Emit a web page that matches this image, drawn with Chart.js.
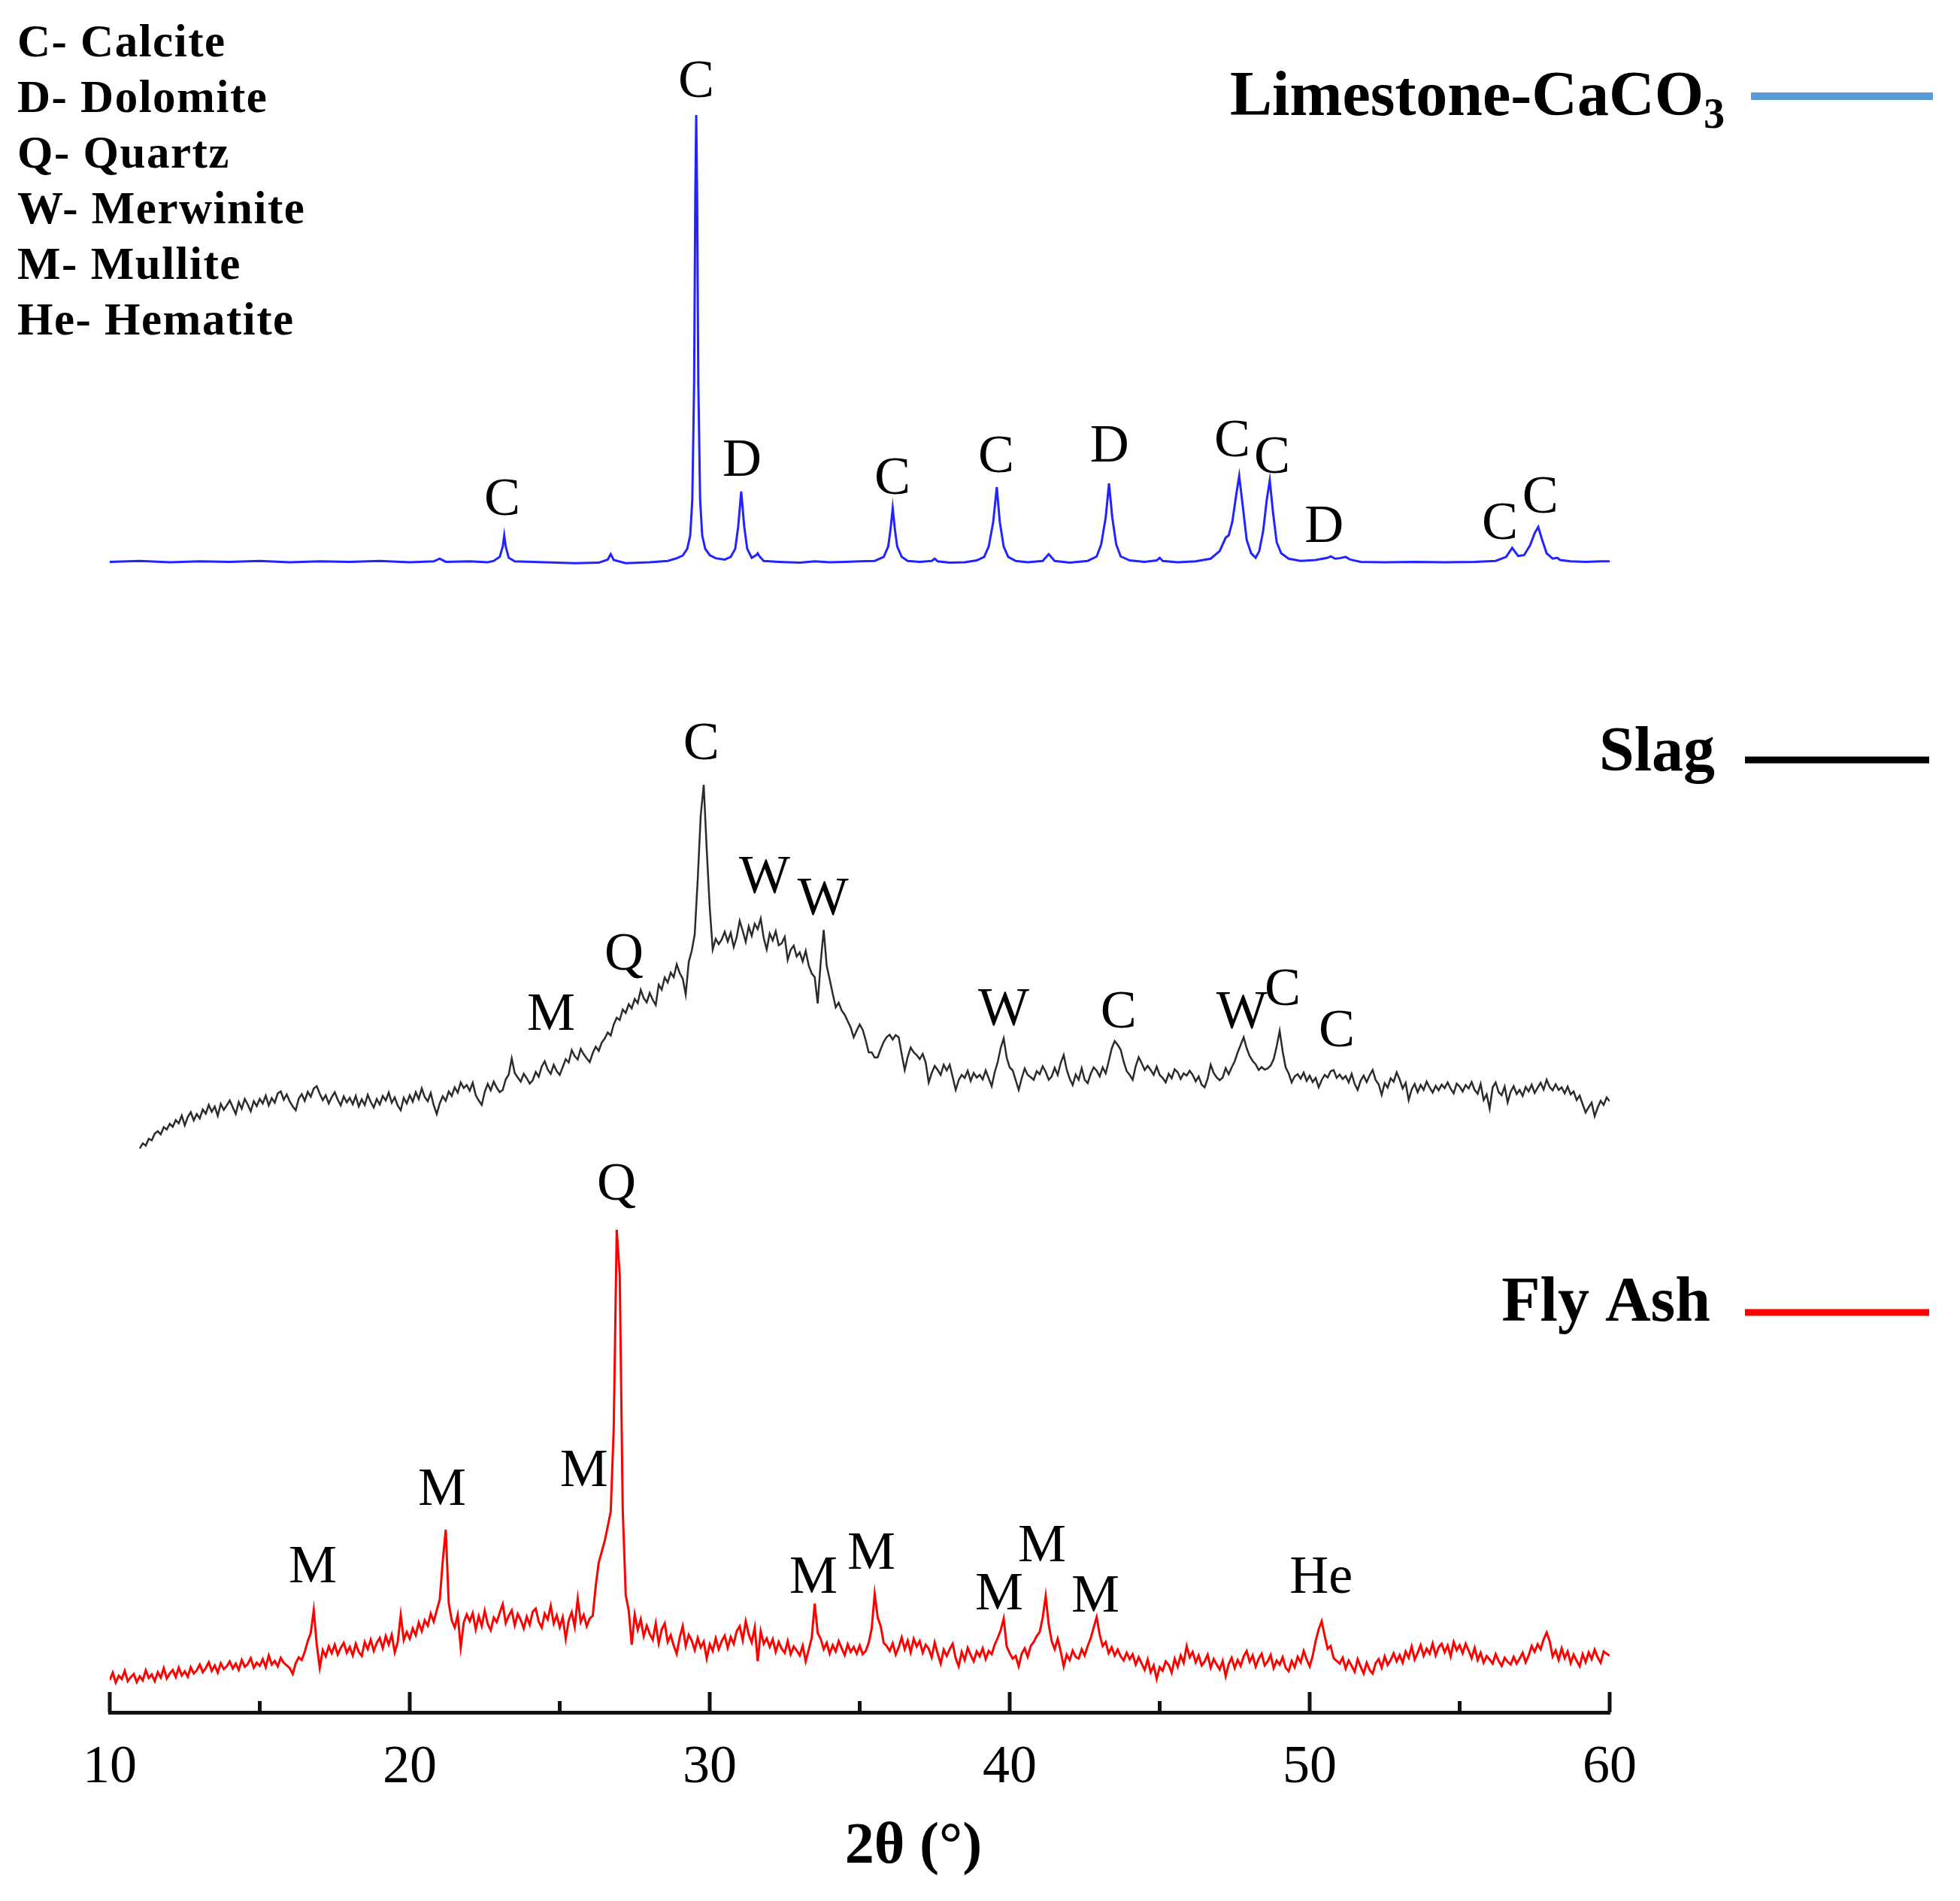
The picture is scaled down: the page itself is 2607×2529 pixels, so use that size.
<!DOCTYPE html>
<html>
<head>
<meta charset="utf-8">
<script src="https://cdn.jsdelivr.net/npm/chart.js@4.4.1/dist/chart.umd.min.js"></script>
<style>
  html, body { margin: 0; padding: 0; background: #fff; }
  #wrap { width: 2607px; height: 2529px; }
</style>
</head>
<body>
<div id="wrap"><canvas id="xrd" width="2607" height="2529"></canvas></div>
<script>
// 2-theta axis
var thetaTicks = [10, 20, 30, 40, 50, 60];

// Limestone-CaCO3 pattern (2theta, relative intensity)
var limestoneTheta = [10.0, 11.0, 12.0, 13.0, 14.0, 15.0, 16.0, 17.0, 18.0, 19.0, 20.0, 20.8, 21.0, 21.2, 22.0, 22.6, 22.8, 23.0, 23.1, 23.15, 23.2, 23.3, 23.5, 24.5, 25.5, 26.3, 26.6, 26.7, 26.8, 27.2, 28.0, 28.6, 28.9, 29.1, 29.25, 29.35, 29.42, 29.48, 29.52, 29.55, 29.58, 29.62, 29.68, 29.75, 29.85, 30.0, 30.2, 30.5, 30.7, 30.85, 30.95, 31.05, 31.15, 31.25, 31.4, 31.55, 31.6, 31.65, 31.8, 32.3, 33.0, 33.5, 34.0, 34.5, 35.0, 35.5, 35.8, 35.95, 36.03, 36.1, 36.17, 36.25, 36.4, 36.6, 37.0, 37.4, 37.5, 37.6, 38.0, 38.5, 38.9, 39.15, 39.3, 39.45, 39.57, 39.67, 39.8, 39.95, 40.2, 40.6, 41.1, 41.3, 41.5, 42.0, 42.6, 42.9, 43.05, 43.2, 43.31, 43.42, 43.55, 43.7, 44.0, 44.5, 44.9, 45.0, 45.1, 45.6, 46.2, 46.7, 47.0, 47.2, 47.3, 47.42, 47.55, 47.65, 47.78, 47.9, 48.05, 48.2, 48.32, 48.45, 48.57, 48.67, 48.78, 48.9, 49.05, 49.3, 49.7, 50.2, 50.6, 50.7, 50.85, 51.0, 51.2, 51.35, 51.7, 52.5, 53.5, 54.5, 55.5, 56.2, 56.55, 56.75, 56.95, 57.15, 57.35, 57.5, 57.62, 57.75, 57.9, 58.1, 58.25, 58.35, 58.7, 59.2, 59.7, 60.0];
var limestoneCounts = [0.1, 0.3, 0.0, 0.2, 0.1, 0.3, 0.0, 0.2, 0.1, 0.3, 0.0, 0.2, 0.8, 0.1, 0.2, 0.0, 0.3, 1.2, 3.5, 6.0, 3.5, 1.0, 0.2, 0.0, -0.2, -0.1, 0.6, 1.8, 0.5, -0.2, 0.0, 0.3, 0.9, 1.5, 3.0, 6.0, 14, 40, 82, 100, 82, 40, 14, 6.0, 3.0, 1.6, 0.9, 0.6, 1.2, 3.0, 8.0, 15.8, 8.0, 3.0, 1.0, 1.6, 2.0, 1.4, 0.3, 0.1, -0.1, 0.2, 0.0, 0.1, 0.2, 0.3, 1.2, 3.5, 7.5, 12.1, 7.5, 3.5, 1.2, 0.3, 0.1, 0.3, 0.8, 0.2, -0.1, 0.0, 0.4, 1.2, 3.5, 9.0, 16.8, 9.0, 3.5, 1.2, 0.3, 0.0, 0.3, 1.8, 0.3, -0.1, 0.3, 1.3, 4.0, 10.0, 17.6, 10.0, 4.0, 1.3, 0.4, 0.1, 0.4, 1.0, 0.3, 0.0, 0.2, 0.8, 2.5, 5.5, 6.0, 9.0, 15.0, 19.3, 12.0, 5.0, 2.0, 1.0, 2.5, 7.0, 14.0, 18.3, 11.0, 4.5, 2.0, 0.8, 0.3, 0.5, 1.0, 1.3, 0.8, 0.9, 1.2, 0.6, 0.1, 0.0, 0.1, 0.0, 0.1, 0.3, 1.2, 3.2, 1.4, 1.6, 3.8, 6.5, 7.9, 5.0, 2.0, 0.8, 1.0, 0.5, 0.2, 0.1, 0.2, 0.2];

// Slag pattern, step scan from 11.0 deg, 0.1 deg per point
var slagStart = 11.0;
var slagStep = 0.1;
var slagCounts = [
  6.4, 7.8, 7.2, 9.0, 8.6, 10.4, 11.0, 10.2, 12.1, 11.5,
  13.0, 12.2, 14.0, 13.1, 15.2, 12.6, 14.8, 16.1, 13.9, 15.6,
  14.4, 16.8, 15.7, 18.0, 16.2, 17.6, 15.1, 18.3, 16.7, 17.9,
  19.2, 17.4, 15.6, 18.8, 17.0, 19.6, 18.1, 16.3, 19.0, 17.7,
  19.6, 18.4, 20.5, 17.9, 19.8, 18.6, 21.1, 21.6, 19.4, 20.8,
  18.9, 17.6, 16.6, 19.7, 20.9, 19.1, 21.5, 20.2, 22.4, 23.0,
  21.0, 19.3, 20.6, 18.4, 20.1, 21.4, 19.4, 17.9, 20.3, 18.7,
  19.9, 18.2, 20.4, 17.6, 19.5, 18.0, 20.7, 18.8, 17.3, 19.6,
  18.1, 20.4, 19.2, 21.3, 18.6, 20.0, 17.8, 16.6, 19.9, 18.4,
  20.6, 18.9, 21.4, 19.6, 22.4, 20.1, 19.0, 21.2, 17.9, 15.6,
  18.4, 20.3, 19.1, 21.6, 20.4, 22.7, 21.3, 24.0, 22.5, 23.3,
  21.8, 23.9, 20.6, 19.2, 18.0, 21.5, 23.6, 21.9, 24.2, 22.6,
  21.4, 22.0, 24.8, 26.1, 30.4, 26.5, 25.3, 24.2, 26.3, 25.1,
  23.7, 24.6, 26.8, 25.5, 28.2, 29.6, 27.4, 26.3, 28.7, 27.0,
  26.0, 28.1, 30.2, 29.3, 32.6, 31.0, 30.1, 32.9, 31.5, 30.4,
  29.4, 31.8, 33.5, 32.4, 34.6, 35.7, 37.3, 36.5, 39.4, 41.2,
  40.6, 43.4, 42.5, 44.8, 43.7, 46.2, 45.1, 48.6, 46.4, 45.3,
  47.8, 46.0, 44.6, 50.0, 48.7, 51.9, 50.6, 53.2, 52.0, 55.4,
  53.1, 51.6, 47.4, 56.0, 59.0, 63.4, 78.0, 95.0, 103.2, 86.0,
  70.6, 59.4, 62.2, 60.8, 62.0, 64.1, 61.5, 63.8, 60.0, 62.7,
  67.0, 64.3, 61.4, 65.5, 63.0, 66.2, 64.8, 67.6, 62.4, 59.4,
  63.6, 61.8, 64.2, 60.5, 61.0, 62.7, 56.6, 59.3, 60.4, 57.5,
  58.6, 56.2, 59.0, 55.1, 53.0, 52.0, 45.0, 56.0, 64.6, 55.0,
  51.4, 47.6, 44.0, 45.2, 43.1, 42.0, 40.3, 38.6, 36.0, 37.8,
  39.4, 38.0, 35.2, 32.0, 32.0, 30.6, 30.7, 32.9, 34.8, 36.1,
  36.7, 35.4, 36.6, 36.0, 31.5, 27.3, 30.8, 33.3, 32.0, 31.3,
  30.2, 31.6, 29.3, 24.0, 26.5, 28.4, 27.3, 26.0, 28.7, 27.2,
  28.7, 25.4, 22.0, 24.6, 26.0, 25.2, 27.1, 24.4, 26.5, 25.3,
  26.0, 24.8, 27.2, 25.1, 23.0, 26.7, 29.4, 33.2, 35.7, 30.6,
  28.0, 27.2, 24.6, 22.0, 25.1, 27.7, 26.0, 25.4, 24.7, 27.0,
  26.2, 28.3, 26.8, 24.7, 25.6, 27.9, 26.0, 29.2, 31.3, 27.4,
  25.0, 23.3, 26.1, 24.7, 27.8, 24.7, 23.8, 26.3, 28.0, 27.1,
  25.6, 28.0, 26.4, 29.6, 33.0, 35.0, 34.0, 32.7, 29.5, 27.0,
  26.0, 24.7, 28.3, 30.7, 29.1, 27.3, 28.4, 27.3, 26.0, 28.2,
  26.0, 25.2, 24.0, 26.3, 25.1, 27.5, 26.7, 24.9, 26.4, 25.8,
  27.1, 26.0, 24.3, 25.6, 23.4, 22.7, 25.0, 28.7, 26.5, 25.3,
  24.6, 25.3, 27.8, 26.2, 28.0, 29.6, 32.0, 34.0, 36.0, 33.1,
  31.0, 29.7, 28.8, 27.3, 28.1, 27.4, 27.7, 28.5, 30.2, 33.6,
  37.7, 32.2, 28.0, 26.4, 24.0, 25.6, 26.2, 25.0, 26.6, 24.4,
  25.8, 24.1, 25.2, 22.7, 24.6, 26.0, 25.3, 27.0, 27.3, 25.2,
  26.1, 24.9, 25.7, 24.0, 26.3, 23.6, 22.0, 24.5, 25.8, 24.1,
  25.9, 27.3, 24.6, 23.5, 20.7, 23.8, 22.6, 25.1, 24.2, 26.7,
  24.8, 22.4, 23.9, 19.3, 22.1, 23.6, 21.4, 23.3, 22.0, 24.2,
  22.6, 21.3, 23.1, 21.9, 23.4, 22.5, 24.0, 22.3, 21.1, 23.7,
  22.9, 21.6, 23.3, 22.4, 24.1, 22.0, 21.0, 23.6, 19.3, 20.8,
  17.0, 22.7, 24.0, 21.4, 20.6, 22.9, 18.7, 21.5, 23.0, 20.9,
  22.0, 20.4, 22.8, 21.6, 23.4, 21.2, 22.6, 23.9, 22.1, 24.7,
  22.8, 21.9, 23.5, 22.0, 22.7, 21.1, 22.9, 20.8, 21.6, 19.3,
  20.5, 18.2, 16.0, 17.4, 18.6, 15.0, 17.3, 19.1, 18.0, 20.0,
  19.0
];

// Fly ash pattern, step scan from 10.0 deg, 0.1 deg per point
var flyAshStart = 10.0;
var flyAshStep = 0.1;
var flyAshCounts = [
  4.2, 5.8, 3.6, 5.1, 4.4, 6.2, 3.9, 4.8, 5.5, 3.7,
  5.0, 4.1, 6.3, 4.6, 5.4, 3.9, 5.9, 4.7, 6.8, 4.5,
  5.6, 6.4, 4.8, 6.9, 5.2, 6.1, 4.9, 7.0, 5.6, 6.3,
  7.6, 5.9, 6.8, 8.1, 6.2, 7.4, 5.8, 7.9, 6.6, 7.2,
  8.3, 6.7, 7.8, 6.4, 8.6, 7.1, 7.7, 9.0, 6.9, 8.0,
  7.3, 8.8, 7.0, 9.6, 7.6, 8.4, 7.2, 9.1, 8.0, 7.4,
  6.8, 5.5, 7.9, 9.2, 8.6, 10.4, 12.8, 14.6, 19.7, 12.0,
  6.9, 10.8, 9.4, 11.6, 10.1, 12.0, 9.8, 11.3, 12.4, 10.2,
  11.5, 9.6, 12.2, 10.4, 9.5, 12.6, 11.0, 13.1, 10.6, 12.4,
  13.5, 11.2, 13.9, 12.0, 14.2, 10.3, 12.6, 18.6, 13.0, 14.8,
  13.3, 15.6, 14.1, 16.9, 15.0, 17.4, 16.2, 18.9, 17.1, 19.6,
  22.0, 30.5, 37.5, 21.2, 17.4, 15.8, 18.6, 11.4, 16.9, 18.7,
  17.2, 19.0, 15.4, 18.3, 16.1, 19.5, 16.6, 15.2, 18.0, 17.0,
  19.1, 21.0, 16.8, 18.4, 19.6, 16.3, 18.8, 17.5, 15.6, 18.2,
  16.4, 19.3, 20.0, 17.1, 15.8, 18.9, 17.6, 20.6, 16.7, 18.5,
  15.9, 18.1, 13.3, 17.4, 19.2, 16.0, 22.2, 17.0, 18.6, 16.1,
  17.8, 18.4, 25.0, 30.2, 32.6, 35.0, 38.2, 41.5, 60.0, 104.0,
  94.0, 42.0, 23.0, 19.6, 12.0, 18.7, 15.3, 17.6, 13.9, 16.2,
  14.4, 13.1, 16.7, 12.3, 15.4, 16.7, 12.6, 14.1, 11.8, 10.0,
  13.6, 16.1, 11.7, 14.2, 12.9, 10.8, 13.5, 11.4, 12.7, 8.9,
  12.1, 10.6, 13.4, 11.0, 12.8, 14.0, 11.3, 13.7, 12.2, 15.0,
  16.1, 13.0, 17.2, 14.3, 12.5, 15.8, 8.3, 15.0, 12.2, 13.4,
  11.5, 13.2, 10.4, 12.6, 11.1, 10.2, 12.8, 9.9, 11.6, 10.7,
  9.6, 11.8, 8.3, 10.9, 13.5, 21.1, 14.6, 13.3, 11.0, 12.4,
  10.0, 11.9, 10.5, 12.8, 11.2, 9.7, 12.1, 10.4, 11.5, 10.0,
  11.8, 9.9, 10.6, 12.4, 15.6, 23.3, 18.0, 16.1, 12.4, 11.7,
  10.6, 12.3, 9.8, 11.4, 13.6, 11.0, 12.9, 10.3, 13.3, 11.6,
  12.8, 10.2, 12.0, 11.1, 9.2, 12.5, 10.0, 7.8, 10.9, 9.5,
  11.0, 12.2, 9.0, 7.2, 10.4, 8.6, 11.3, 9.7, 8.3, 10.5,
  9.4, 11.2, 8.8, 10.6, 9.9, 12.0, 13.5, 15.2, 17.8, 11.6,
  10.1, 8.9, 9.5, 7.2, 10.0, 11.2, 9.3, 11.7, 12.6, 13.9,
  14.8, 18.0, 22.8, 16.5, 12.8, 11.0, 13.3, 10.5, 7.2, 9.8,
  8.6, 10.7, 9.3, 8.9, 11.0, 9.6, 11.7, 13.4, 15.8, 18.1,
  14.2, 11.7, 12.6, 10.1, 11.4, 9.6, 10.9, 9.4, 8.5, 10.2,
  8.8, 9.9, 7.6, 9.2, 7.8, 6.4, 8.7, 5.9, 7.4, 4.4,
  7.0, 6.2, 8.3, 7.5, 5.8, 8.9, 7.1, 9.6, 8.0, 11.7,
  9.2, 10.4, 8.1, 9.6, 7.4, 8.3, 9.8, 6.9, 8.8, 7.6,
  6.5, 8.4, 5.0, 7.7, 9.1, 6.8, 8.6, 7.3, 9.4, 10.6,
  8.2, 9.6, 7.1, 8.9, 10.0, 7.4, 8.3, 9.7, 6.8, 8.5,
  7.6, 9.2, 6.9, 6.1, 8.4, 7.0, 9.3, 8.1, 10.6, 8.7,
  7.2, 9.5, 12.8, 15.4, 17.2, 14.0, 11.1, 11.7, 9.0, 8.4,
  7.8, 9.1, 6.7, 8.5, 7.3, 6.0, 8.8, 7.1, 5.6, 8.0,
  6.4, 5.6, 7.9, 8.8, 6.9, 9.4, 7.5, 8.6, 10.1, 8.3,
  9.7, 8.0, 10.5, 9.1, 11.6, 8.7, 10.2, 11.9, 9.5, 11.1,
  10.0, 12.3, 9.6, 11.4, 12.2, 10.3, 11.8, 9.4, 12.6, 10.8,
  11.9, 10.1, 12.2, 10.7, 9.0, 11.3, 8.6, 10.2, 8.0, 9.5,
  8.7, 7.8, 9.9, 8.4, 7.3, 9.1, 8.2, 7.6, 9.3, 7.8,
  8.9, 10.2, 8.1, 9.6, 11.7, 10.4, 12.1, 11.0, 13.2, 14.7,
  12.8, 9.4, 10.7, 8.6, 11.2, 9.0, 10.5, 7.9, 9.8, 8.4,
  7.2, 9.9, 8.1, 10.3, 8.8, 10.9, 9.2, 8.0, 10.5, 10.0,
  9.6
];

// phase labels over the peaks
var limestonePeakNames = ['C', 'C', 'D', 'C', 'C', 'D', 'C', 'C', 'D', 'C', 'C'];
var limestonePeakTheta = [23.08, 29.55, 31.08, 36.09, 39.55, 43.33, 47.42, 48.75, 50.48, 56.34, 57.69];
var limestonePeakLevel = [10.6, 104.0, 19.3, 15.3, 20.2, 22.5, 23.7, 20.0, 4.5, 5.2, 11.1];

var slagPeakNames = ['M', 'Q', 'C', 'W', 'W', 'W', 'C', 'W', 'C', 'C'];
var slagPeakTheta = [24.71, 27.14, 29.72, 31.83, 33.78, 39.80, 43.63, 47.74, 49.10, 50.90];
var slagPeakLevel = [38.0, 54.0, 110.0, 74.6, 68.8, 39.4, 38.6, 38.6, 44.6, 33.6];

var flyAshPeakNames = ['M', 'M', 'M', 'Q', 'M', 'M', 'M', 'M', 'M', 'He'];
var flyAshPeakTheta = [16.77, 21.08, 25.81, 26.89, 33.46, 35.39, 39.65, 41.08, 42.86, 50.38];
var flyAshPeakLevel = [25.8, 43.0, 47.2, 110.6, 23.5, 28.8, 19.8, 30.5, 19.3, 23.5];

var phaseKey = ['C- Calcite', 'D- Dolomite', 'Q- Quartz', 'W- Merwinite', 'M- Mullite', 'He- Hematite'];

function toPoints(thetas, counts) {
    return counts.map(function (c, i) { return { x: thetas[i], y: c }; });
}
function stepPoints(start, step, counts) {
    return counts.map(function (c, i) { return { x: +(start + i * step).toFixed(2), y: c }; });
}

var SERIF = '"Liberation Serif", "Times New Roman", serif';

// labels, key, inward ticks and axis title
var xrdDecor = {
    id: 'xrdDecor',
    afterDraw: function (chart) {
        var ctx = chart.ctx;
        var xs = chart.scales.x;
        var area = chart.chartArea;
        ctx.save();

        // inward ticks, long at labels, short in between
        ctx.strokeStyle = '#111';
        ctx.lineWidth = 5;
        for (var i = 0; i < thetaTicks.length; i++) {
            var px = xs.getPixelForValue(thetaTicks[i]);
            ctx.beginPath(); ctx.moveTo(px, area.bottom); ctx.lineTo(px, area.bottom - 27); ctx.stroke();
            if (i < thetaTicks.length - 1) {
                var pm = xs.getPixelForValue((thetaTicks[i] + thetaTicks[i + 1]) / 2);
                ctx.beginPath(); ctx.moveTo(pm, area.bottom); ctx.lineTo(pm, area.bottom - 15); ctx.stroke();
            }
        }

        // peak letters
        ctx.fillStyle = '#000';
        ctx.font = '72px ' + SERIF;
        ctx.textAlign = 'center';
        ctx.textBaseline = 'alphabetic';
        function peaks(names, thetas, levels, axisId) {
            var ys = chart.scales[axisId];
            for (var k = 0; k < names.length; k++) {
                ctx.fillText(names[k], xs.getPixelForValue(thetas[k]), ys.getPixelForValue(levels[k]));
            }
        }
        peaks(limestonePeakNames, limestonePeakTheta, limestonePeakLevel, 'yL');
        peaks(slagPeakNames, slagPeakTheta, slagPeakLevel, 'yS');
        peaks(flyAshPeakNames, flyAshPeakTheta, flyAshPeakLevel, 'yF');

        // phase key top left
        ctx.textAlign = 'left';
        ctx.font = 'bold 61px ' + SERIF;
        ctx.letterSpacing = '1.5px';
        for (var j = 0; j < phaseKey.length; j++) {
            ctx.fillText(phaseKey[j], 23, 75 + j * 74);
        }
        ctx.letterSpacing = '0px';

        // sample names with line swatches
        ctx.font = 'bold 84px ' + SERIF;
        var main = 'Limestone-CaCO';
        var w1 = ctx.measureText(main).width;
        ctx.font = 'bold 56px ' + SERIF;
        var w2 = ctx.measureText('3').width;
        var sx = 2294 - w1 - w2;
        ctx.font = 'bold 84px ' + SERIF;
        ctx.fillText(main, sx, 153);
        ctx.font = 'bold 56px ' + SERIF;
        ctx.fillText('3', sx + w1, 170);

        ctx.font = 'bold 84px ' + SERIF;
        ctx.textAlign = 'right';
        ctx.fillText('Slag', 2281, 1025);
        ctx.fillText('Fly Ash', 2275, 1757);

        ctx.lineCap = 'butt';
        ctx.lineWidth = 10;
        ctx.strokeStyle = '#5b9bd5';
        ctx.beginPath(); ctx.moveTo(2329, 128); ctx.lineTo(2571, 128); ctx.stroke();
        ctx.lineWidth = 9;
        ctx.strokeStyle = '#000';
        ctx.beginPath(); ctx.moveTo(2321, 1011); ctx.lineTo(2566, 1011); ctx.stroke();
        ctx.strokeStyle = '#ff0000';
        ctx.beginPath(); ctx.moveTo(2321, 1746); ctx.lineTo(2566, 1746); ctx.stroke();

        // axis title
        ctx.fillStyle = '#000';
        ctx.textAlign = 'center';
        ctx.textBaseline = 'middle';
        ctx.font = 'bold 78px ' + SERIF;
        ctx.fillText('2\u03b8 (\u00b0)', 1215, 2458);

        ctx.restore();
    }
};

var chart = new Chart(document.getElementById('xrd'), {
    type: 'line',
    data: {
        datasets: [{
            label: 'Limestone-CaCO3',
            data: toPoints(limestoneTheta, limestoneCounts),
            yAxisID: 'yL',
            borderColor: '#2323ff',
            borderWidth: 3,
            pointRadius: 0,
            tension: 0
        }, {
            label: 'Slag',
            data: stepPoints(slagStart, slagStep, slagCounts),
            yAxisID: 'yS',
            borderColor: '#2b2b2b',
            borderWidth: 2.5,
            pointRadius: 0,
            tension: 0
        }, {
            label: 'Fly Ash',
            data: stepPoints(flyAshStart, flyAshStep, flyAshCounts),
            yAxisID: 'yF',
            borderColor: '#ff0000',
            borderWidth: 3,
            pointRadius: 0,
            tension: 0
        }]
    },
    options: {
        responsive: false,
        devicePixelRatio: 1,
        animation: false,
        events: [],
        layout: { padding: { left: 146, right: 466, top: 0, bottom: 0 } },
        plugins: { legend: { display: false }, tooltip: { enabled: false } },
        scales: {
            x: {
                type: 'linear',
                min: 10,
                max: 60,
                afterFit: function (scale) { scale.height = 251; },
                grid: { display: false, drawTicks: false },
                border: { display: true, color: '#111', width: 5 },
                ticks: {
                    stepSize: 10,
                    padding: 31,
                    color: '#000',
                    font: { family: SERIF, size: 72 }
                }
            },
            yL: { type: 'linear', display: false, min: -257.14, max: 125.71 },
            yS: { type: 'linear', display: false, min: -143.6, max: 312 },
            yF: { type: 'linear', display: false, min: -3.0, max: 376.67 }
        }
    },
    plugins: [xrdDecor]
});
</script>
</body>
</html>
